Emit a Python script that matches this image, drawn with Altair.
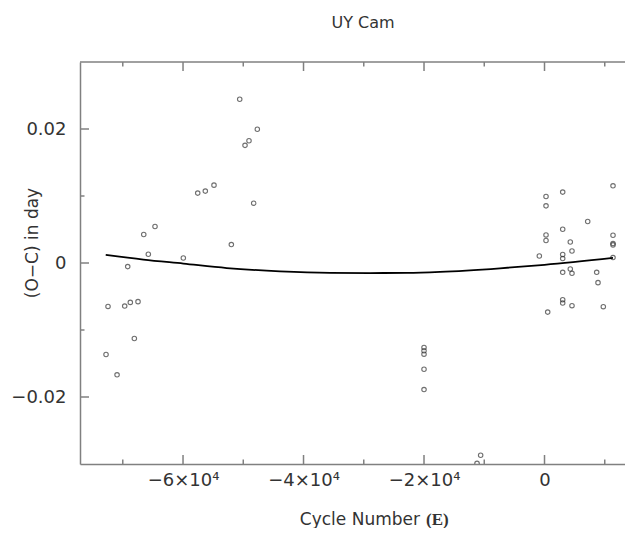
import altair as alt
import pandas as pd

# Observed O-C points (cycle number E, O-C in days)
E_obs = [-72780, -72450, -70950, -69680, -69180, -68750, -68080, -67470, -66520, -65760,
         -64650, -59950, -57560, -56300, -54860, -51980, -50590, -49710, -49050, -48270,
         -47670,
         -20000, -20000, -20000, -20000, -20000, -11200, -10600,
         -860, 250, 250, 250, 250, 530,
         3020, 3020, 3020, 3020, 3020, 3020, 3020,
         4280, 4280, 4560, 4560, 4560, 7170, 8660, 8880, 9760,
         11370, 11370, 11370, 11370, 11370]
OC_obs = [-0.01366, -0.00648, -0.01669, -0.00643, -0.00054, -0.00588, -0.01126, -0.00577, 0.00425, 0.00130,
          0.00545, 0.00075, 0.01043, 0.01073, 0.01162, 0.00275, 0.02444, 0.01756, 0.01825, 0.00893,
          0.01996,
          -0.01261, -0.01310, -0.01361, -0.01586, -0.01889, -0.0299, -0.0287,
          0.00105, 0.00993, 0.00853, 0.00419, 0.00335, -0.00733,
          0.01058, 0.00504, 0.00126, 0.00066, -0.00139, -0.00548, -0.00598,
          0.00314, -0.0009, 0.0018, -0.00154, -0.00637, 0.00619, -0.00139, -0.00293, -0.00652,
          0.01152, 0.00414, 0.0029, 0.0027, 0.00081]

# Fitted curve
E_fit = [-72830, -66590, -59950, -52750, -43900, -35600, -28960, -22820, -17340, -7390, 0, 11370]
OC_fit = [0.00120, 0.00051, -0.00009, -0.00075, -0.00124, -0.00147, -0.00150, -0.00147, -0.00132, -0.00079, -0.00027, 0.00075]

x_major = [-60000, -40000, -20000, 0]
x_minor = [-70000, -50000, -30000, -10000, 10000]
y_major = [-0.02, 0.0, 0.02]
y_minor = [-0.01, 0.01]

X_DOMAIN = [-77100, 13360]
Y_DOMAIN = [-0.03, 0.03]
W, H = 545, 402
FRAME = "#808080"
TXT = "#333333"
FONT = "DejaVu Sans"

obs = pd.DataFrame({"E": E_obs, "OC": OC_obs})
fit = pd.DataFrame({"E": E_fit, "OC": OC_fit})

xs = alt.Scale(domain=X_DOMAIN, nice=False, zero=False)
ys = alt.Scale(domain=Y_DOMAIN, nice=False, zero=False)

x_axis = alt.Axis(values=x_major, ticks=False, tickSize=0, grid=False, title=None,
                  domainColor=FRAME, domainWidth=1.5,
                  labelFont=FONT, labelFontSize=18, labelColor=TXT, labelPadding=7,
                  labelExpr="datum.value == 0 ? '0' : '\u2212' + abs(datum.value)/10000 + '\u00d710\u2074'")
y_axis = alt.Axis(values=y_major, ticks=False, tickSize=0, grid=False, title=None,
                  domainColor=FRAME, domainWidth=1.5,
                  labelFont=FONT, labelFontSize=18, labelColor=TXT, labelPadding=14,
                  labelExpr="datum.value == 0 ? '0' : (datum.value < 0 ? '\u2212' : '') + format(abs(datum.value), '.2f')")

points = alt.Chart(obs).mark_point(shape="circle", filled=False, size=20, strokeWidth=1.1,
                                   color="#333333", clip=True).encode(
    x=alt.X("E:Q", scale=xs, axis=x_axis),
    y=alt.Y("OC:Q", scale=ys, axis=y_axis),
)

curve = alt.Chart(fit).mark_line(color="black", strokeWidth=1.8, interpolate="monotone").encode(
    x=alt.X("E:Q", scale=xs), y=alt.Y("OC:Q", scale=ys))

def xticks(vals, length):
    d = pd.DataFrame({"E": vals})
    bot = alt.Chart(d).mark_rule(color=FRAME, strokeWidth=1.5).encode(
        x=alt.X("E:Q", scale=xs), y=alt.value(H), y2=alt.value(H - length))
    top = alt.Chart(d).mark_rule(color=FRAME, strokeWidth=1.5).encode(
        x=alt.X("E:Q", scale=xs), y=alt.value(0), y2=alt.value(length))
    return [bot, top]

def yticks(vals, length):
    d = pd.DataFrame({"OC": vals})
    return [alt.Chart(d).mark_rule(color=FRAME, strokeWidth=1.5).encode(
        y=alt.Y("OC:Q", scale=ys), x=alt.value(0), x2=alt.value(length))]

top_line = alt.Chart(pd.DataFrame({"a": [0]})).mark_rule(color=FRAME, strokeWidth=1.5).encode(
    x=alt.value(0), x2=alt.value(W), y=alt.value(0))

def label(text, x, y, size=17, font=FONT, weight="normal", align="center", angle=0, baseline="alphabetic"):
    kw = dict(text=text, font=font, fontSize=size, fontWeight=weight, color=TXT,
              align=align, baseline=baseline)
    if angle:
        kw["angle"] = angle
    return alt.Chart(pd.DataFrame({"a": [0]})).mark_text(**kw).encode(
        x=alt.value(x), y=alt.value(y))

texts = [
    label("UY Cam", 283, -34, size=16),
    label("Cycle Number", 340, 463, size=17, align="right"),
    label("(E)", 346, 463, size=17, font="Liberation Serif", weight="bold", align="left"),
    label("(O\u2212C) in day", -47, 181, size=17, angle=270, baseline="middle"),
]

layers = [points, curve, top_line] + xticks(x_major, 9) + xticks(x_minor, 4.5) \
    + yticks(y_major, 9) + yticks(y_minor, 4.5) + texts

chart = alt.layer(*layers).properties(
    width=W, height=H,
    autosize=alt.AutoSizeParams(type="none"),
    padding={"left": 72, "top": 54, "right": 0, "bottom": 64},
    background="white",
).configure_view(stroke=None)

chart.save("out.html", embed_options={"renderer": "svg", "actions": False})
